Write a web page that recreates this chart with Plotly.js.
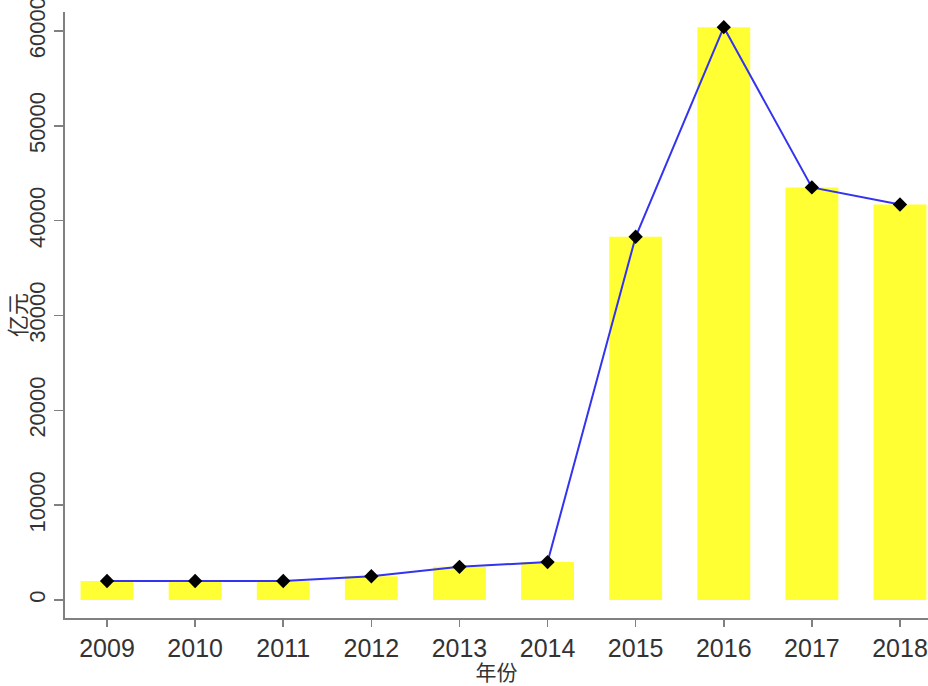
<!DOCTYPE html>
<html>
<head>
<meta charset="utf-8">
<script src="https://cdn.plot.ly/plotly-3.0.1.min.js"></script>
<style>html,body{margin:0;padding:0;background:#fff;}</style>
</head>
<body>
<div id="chart" style="width:928px;height:686px;"></div>
<script>
const years = [2009, 2010, 2011, 2012, 2013, 2014, 2015, 2016, 2017, 2018];
const values = [2000, 2000, 2000, 2500, 3500, 4000, 38300, 60400, 43500, 41700];
const yTicks = [0, 10000, 20000, 30000, 40000, 50000, 60000];

const bars = {
  type: 'bar', x: years, y: values, width: 0.6,
  marker: {color: '#ffff33', line: {width: 0}},
  hoverinfo: 'skip', showlegend: false
};
const line = {
  type: 'scatter', mode: 'lines+markers', x: years, y: values,
  line: {color: '#3333f0', width: 2},
  marker: {symbol: 'diamond', color: '#000000', size: 11},
  showlegend: false
};

const layout = {
  width: 928, height: 686,
  margin: {l: 65, r: 0, t: 12, b: 68},
  paper_bgcolor: '#ffffff', plot_bgcolor: '#ffffff',
  xaxis: {
    range: [2008.523, 2018.318],
    tickvals: years, ticktext: years.map(String),
    ticklabeloverflow: 'allow',
    showgrid: false, zeroline: false,
    showline: true, linecolor: '#808080', linewidth: 2,
    ticks: 'outside', ticklen: 7, tickcolor: '#808080', tickwidth: 1.5,
    tickfont: {family: 'Liberation Sans, Arial, sans-serif', size: 25, color: '#333333'},
    title: {text: '年份', font: {family: 'Noto Sans CJK SC, sans-serif', size: 21, color: '#333333'}, standoff: 2}
  },
  yaxis: {
    range: [-1900, 62000],
    tickvals: yTicks, ticktext: yTicks.map(String),
    tickangle: -90,
    ticklabeloverflow: 'allow',
    showgrid: false, zeroline: false,
    showline: true, linecolor: '#808080', linewidth: 2,
    ticks: 'outside', ticklen: 9, tickcolor: '#808080', tickwidth: 1.5,
    tickfont: {family: 'Liberation Sans, Arial, sans-serif', size: 22, color: '#333333'},
    title: {text: '亿元', font: {family: 'Noto Sans CJK SC, sans-serif', size: 22, color: '#333333'}, standoff: 0}
  }
};

Plotly.newPlot('chart', [bars, line], layout, {displayModeBar: false, staticPlot: true});
</script>
</body>
</html>
